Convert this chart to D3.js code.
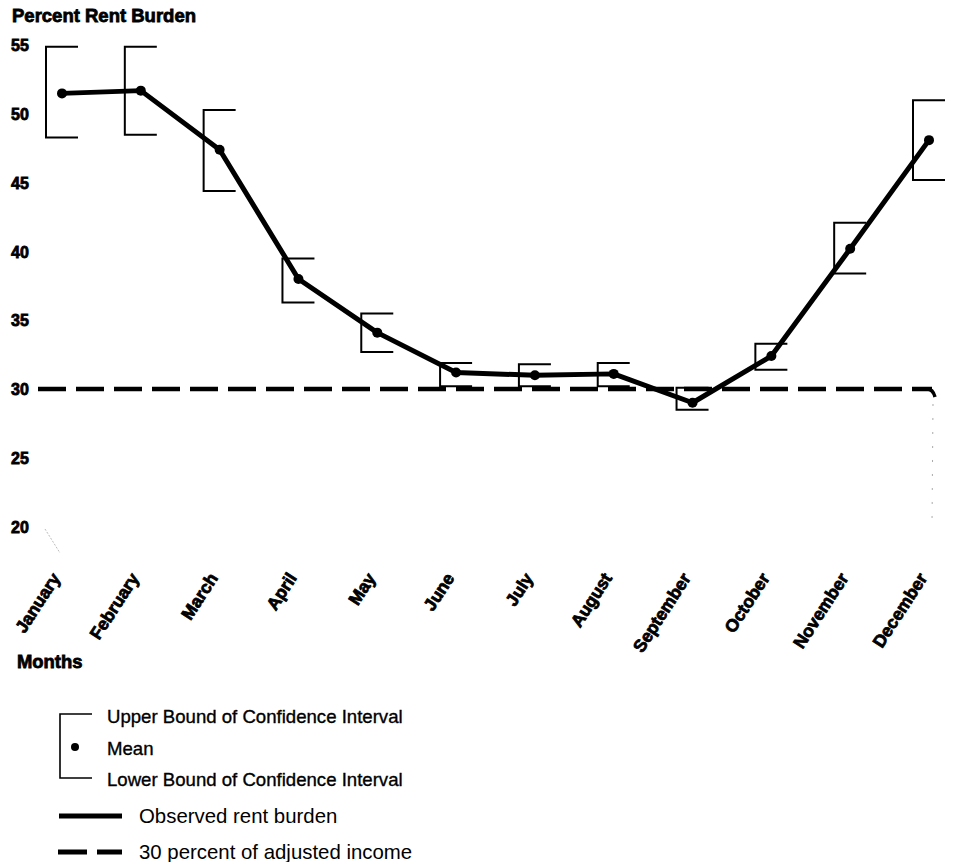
<!DOCTYPE html>
<html>
<head>
<meta charset="utf-8">
<script src="https://cdn.jsdelivr.net/npm/d3@7"></script>
<style>
  html, body { margin: 0; padding: 0; background: #fff; }
  svg { display: block; }
  text { font-family: "Liberation Sans", Arial, Helvetica, sans-serif; fill: #000; }
  .bold { font-weight: bold; stroke: #000; stroke-width: 0.8px; }
</style>
</head>
<body>
<svg id="chart" width="957" height="862"></svg>
<script>
// ---- data ----
const months = ["January","February","March","April","May","June","July","August","September","October","November","December"];
const meanValues  = [51.5, 51.7, 47.4, 38.0, 34.1, 31.2, 31.0, 31.1, 29.0, 32.4, 40.2, 48.1];
const upperBounds = [54.9, 54.9, 50.3, 39.5, 35.5, 31.9, 31.8, 31.9, 30.1, 33.3, 42.1, 51.0];
const lowerBounds = [48.3, 48.5, 44.4, 36.3, 32.7, 30.2, 30.2, 30.2, 28.5, 31.4, 38.4, 45.2];
const referenceValue = 30;
const yTicks = [20, 25, 30, 35, 40, 45, 50, 55];
const yAxisTitle = "Percent Rent Burden";
const xAxisTitle = "Months";
const legendBracketLabels = ["Upper Bound of Confidence Interval", "Mean", "Lower Bound of Confidence Interval"];
const legendLineLabels = ["Observed rent burden", "30 percent of adjusted income"];

// ---- scales ----
const svg = d3.select("#chart");
const x = d3.scalePoint().domain(months).range([62, 929]);
const y = d3.scaleLinear().domain([20, 55]).range([526.5, 45.25]);

const data = months.map((m, i) => ({ m, mean: meanValues[i], hi: upperBounds[i], lo: lowerBounds[i] }));

// y-axis title
svg.append("text").attr("class", "bold").attr("x", 12).attr("y", 22)
  .style("font-size", "18.5px").text(yAxisTitle);

// y tick labels
svg.append("g").selectAll("text").data(yTicks).join("text")
  .attr("class", "bold")
  .attr("x", 11).attr("y", d => y(d) + 2)
  .attr("dominant-baseline", "middle")
  .style("font-size", "16px")
  .text(d => d);

// reference dashed line
svg.append("line")
  .attr("x1", 38).attr("x2", 932)
  .attr("y1", y(referenceValue)).attr("y2", y(referenceValue))
  .attr("stroke", "#000").attr("stroke-width", 4.5)
  .attr("stroke-dasharray", "28,10");
svg.append("path")
  .attr("d", `M927,${y(referenceValue)} Q933,${y(referenceValue)} 935,${y(referenceValue) + 8}`)
  .attr("fill", "none").attr("stroke", "#000").attr("stroke-width", 3.5);

// faint scan marks
svg.append("line").attr("x1", 933).attr("x2", 932).attr("y1", 404).attr("y2", 525)
  .attr("stroke", "#aaa").attr("stroke-width", 1).attr("stroke-dasharray", "2,12");
svg.append("line").attr("x1", 45).attr("x2", 60).attr("y1", 529).attr("y2", 553)
  .attr("stroke", "#aaa").attr("stroke-width", 0.8).attr("stroke-dasharray", "2,1.5");

// confidence brackets
const bw = 16;
svg.append("g").selectAll("path").data(data).join("path")
  .attr("d", d => {
    const cx = x(d.m);
    return `M${cx + bw},${y(d.hi)} H${cx - bw} V${y(d.lo)} H${cx + bw}`;
  })
  .attr("fill", "none").attr("stroke", "#000").attr("stroke-width", 2);

// observed line
const line = d3.line().x(d => x(d.m)).y(d => y(d.mean));
svg.append("path").datum(data).attr("d", line)
  .attr("fill", "none").attr("stroke", "#000").attr("stroke-width", 5)
  .attr("stroke-linejoin", "round").attr("stroke-linecap", "round");

// mean dots
svg.append("g").selectAll("circle").data(data).join("circle")
  .attr("cx", d => x(d.m)).attr("cy", d => y(d.mean)).attr("r", 5)
  .attr("fill", "#000");

// x labels
svg.append("g").selectAll("text").data(months).join("text")
  .attr("class", "bold")
  .attr("text-anchor", "end")
  .attr("transform", d => `translate(${x(d) - 1},${578}) rotate(-57)`)
  .style("font-size", "17.5px")
  .text(d => d);

// x-axis title
svg.append("text").attr("class", "bold").attr("x", 17).attr("y", 668)
  .style("font-size", "18.4px").text(xAxisTitle);

// ---- legend ----
const lg = svg.append("g");
lg.append("path").attr("d", "M92,714 H60 V778 H92")
  .attr("fill", "none").attr("stroke", "#000").attr("stroke-width", 1.6);
lg.append("circle").attr("cx", 75).attr("cy", 747).attr("r", 4).attr("fill", "#000");
const bracketYs = [723, 755, 786];
lg.selectAll("text.b").data(legendBracketLabels).join("text")
  .attr("class", "b")
  .attr("x", 107).attr("y", (d, i) => bracketYs[i])
  .style("font-size", "18.6px")
  .attr("stroke", "#000").attr("stroke-width", 0.35)
  .text(d => d);

lg.append("line").attr("x1", 59).attr("x2", 122).attr("y1", 816).attr("y2", 816)
  .attr("stroke", "#000").attr("stroke-width", 5);
lg.append("line").attr("x1", 58).attr("x2", 122).attr("y1", 852).attr("y2", 852)
  .attr("stroke", "#000").attr("stroke-width", 5).attr("stroke-dasharray", "29,10");
const lineYs = [823, 859];
lg.selectAll("text.l").data(legendLineLabels).join("text")
  .attr("class", "l")
  .attr("x", 139).attr("y", (d, i) => lineYs[i])
  .style("font-size", "20.4px")
  .text(d => d);
</script>
</body>
</html>
